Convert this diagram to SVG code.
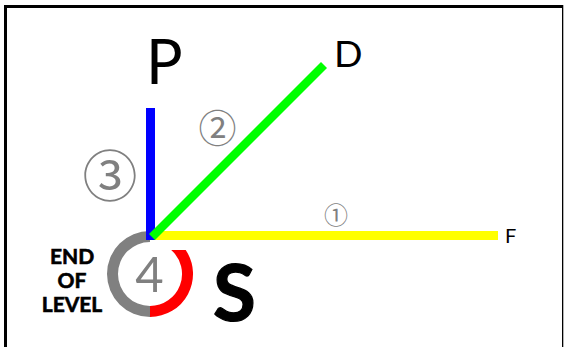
<svg xmlns="http://www.w3.org/2000/svg" width="564" height="347" viewBox="0 0 564 347">
<style>
.lbl{font-family:Lato,"Open Sans","Noto Sans",sans-serif;fill:#000}
.num{font-family:"Noto Sans CJK JP","DejaVu Sans",sans-serif;fill:#808080;text-anchor:middle}
.eol{font-family:Lato,"Open Sans",sans-serif;font-weight:bold;font-size:21px;text-anchor:middle;fill:#000;stroke:#000;stroke-width:0.6}
</style>
<rect width="564" height="347" fill="#fff"/>
<g id="frame" fill="#000">
<rect x="4" y="5" width="559" height="3"/>
<rect x="4" y="5" width="3" height="342"/>
<rect x="562" y="5" width="1.3" height="342"/>
</g>
<g id="level-end">
<path d="M150,317 A43,43 0 0 1 150,231 L150,242 A32,32 0 0 0 150,306 Z" fill="#808080"/>
<path d="M150,317 A43,43 0 0 0 185.7,250 L171.2,250 A32,32 0 0 1 150,306 Z" fill="#ff0000"/>
<text x="149.5" y="292" font-family="Lato,'Open Sans',sans-serif" font-size="49" fill="#808080" text-anchor="middle">4</text>
<text class="eol" x="72" y="264">END</text>
<text class="eol" x="72" y="288">OF</text>
<text class="eol" x="72" y="312">LEVEL</text>
</g>
<g id="connectors">
<rect id="line-p" x="146" y="108" width="9" height="132" fill="#0000ff"/>
<rect id="line-f" x="155" y="231" width="343" height="9" fill="#ffff00"/>
<line id="line-d" x1="152" y1="237" x2="324" y2="65" stroke="#00ff00" stroke-width="8.5"/>
</g>
<g id="node-p"><text class="lbl" x="146" y="84" font-size="61">P</text></g>
<g id="node-d"><text class="lbl" x="334" y="67" font-size="37.5">D</text></g>
<g id="node-f"><text class="lbl" x="505" y="243" font-size="20">F</text></g>
<g id="node-s"><text class="lbl" x="213" y="321" font-size="78" font-weight="bold" stroke="#000" stroke-width="1.2">S</text></g>
<g id="labels">
<text class="num" x="110" y="196" font-size="55">③</text>
<text class="num" x="217.5" y="142" font-size="38">②</text>
<text class="num" x="336" y="223.5" font-size="24">①</text>
</g>
</svg>
